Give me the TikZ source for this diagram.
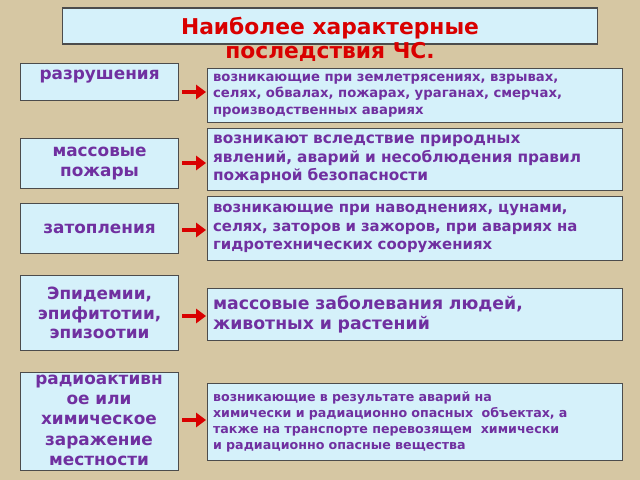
\documentclass[tikz,border=0pt]{standalone}
\usepackage{fontspec}
\setmainfont{DejaVu Sans}
\usetikzlibrary{arrows.meta,positioning}
\definecolor{bgc}{HTML}{D6C7A3}
\definecolor{boxc}{HTML}{D5F1FA}
\definecolor{txtc}{HTML}{7030A0}
\tikzset{
  leftbox/.style={draw=black!70, fill=boxc, line width=0.8pt, text=txtc, font=\bfseries\fontsize{12}{14}\selectfont, align=center, minimum width=3.95cm, text width=3.8cm, inner sep=1pt},
  rightbox/.style={draw=black!70, fill=boxc, line width=0.8pt, text=txtc, font=\bfseries\fontsize{9.4}{11.5}\selectfont, align=left, minimum width=10.375cm, text width=10.1cm, inner sep=2pt},
  redarrow/.style={-{Triangle[length=7pt,width=10pt]}, red!85!black, line width=2.5pt}
}
\begin{document}
\begin{tikzpicture}[x=0.025cm,y=-0.025cm]
\fill[bgc] (0,0) rectangle (640,480);
\useasboundingbox (0,0) rectangle (640,480);
% title
\node[draw=black!70, fill=boxc, line width=0.8pt, minimum width=13.35cm, minimum height=0.9cm] (title) at (330,26) {};
\node[text=red!85!black, font=\bfseries\fontsize{15.5}{17}\selectfont, align=center] (titletext) at (330,39) {Наиболее характерные\\последствия ЧС.};
% left column
\node[leftbox, minimum height=0.925cm, anchor=north west, text depth=10pt] (l1) at (20,63) {разрушения};
\node[leftbox, minimum height=1.25cm, anchor=north west] (l2) at (20,138) {массовые\\пожары};
\node[leftbox, minimum height=1.25cm, anchor=north west] (l3) at (20,203) {затопления};
\node[leftbox, minimum height=1.875cm, anchor=north west] (l4) at (20,275) {Эпидемии,\\эпифитотии,\\эпизоотии};
\node[leftbox, minimum height=2.45cm, anchor=north west] (l5) at (20,372) {};
\node[text=txtc, font=\bfseries\fontsize{12}{14.3}\selectfont, align=center, anchor=north, inner sep=0pt] (l5text) at (99,375) {радиоактивн\\ое или\\химическое\\заражение\\местности};
% right column
\node[rightbox, minimum height=1.35cm, anchor=north west] (r1) at (207,68) {возникающие при землетрясениях, взрывах,\\селях, обвалах, пожарах, ураганах, смерчах,\\производственных авариях};
\node[rightbox, minimum height=1.55cm, anchor=north west, font=\bfseries\fontsize{10.9}{13}\selectfont] (r2) at (207,128) {возникают вследствие природных\\явлений, аварий и несоблюдения правил\\пожарной безопасности};
\node[rightbox, minimum height=1.6cm, anchor=north west, font=\bfseries\fontsize{10.6}{13}\selectfont] (r3) at (207,196) {возникающие при наводнениях, цунами,\\селях, заторов и зажоров, при авариях на\\гидротехнических сооружениях};
\node[rightbox, minimum height=1.3cm, anchor=north west, font=\bfseries\fontsize{12.3}{14.5}\selectfont] (r4) at (207,288) {массовые заболевания людей,\\животных и растений};
\node[rightbox, minimum height=1.925cm, anchor=north west, font=\bfseries\fontsize{9}{11.5}\selectfont] (r5) at (207,383) {возникающие в результате аварий на\\химически и радиационно опасных\ \ объектах, а\\также на транспорте перевозящем\ \ химически\\и радиационно опасные вещества};
% arrows
\coordinate (a1) at (182,92);  \coordinate (b1) at (206,92);
\coordinate (a2) at (182,163); \coordinate (b2) at (206,163);
\coordinate (a3) at (182,230); \coordinate (b3) at (206,230);
\coordinate (a4) at (182,316); \coordinate (b4) at (206,316);
\coordinate (a5) at (182,420); \coordinate (b5) at (206,420);
\foreach \i in {1,...,5} \draw[redarrow] (a\i) -- (b\i);
\end{tikzpicture}
\end{document}
